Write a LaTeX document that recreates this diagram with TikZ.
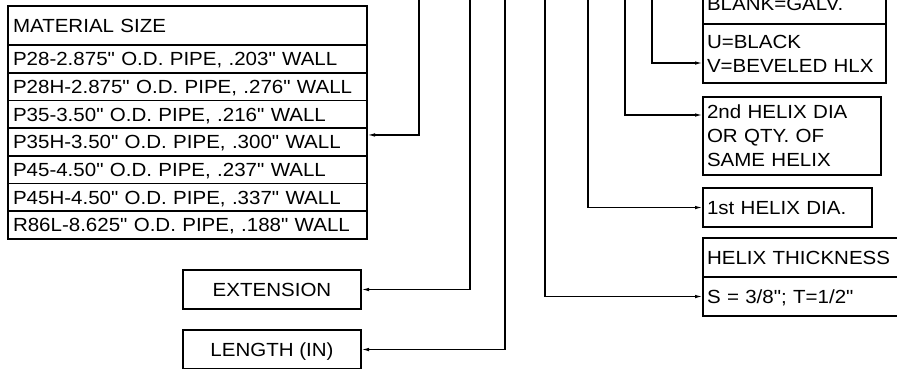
\documentclass[tikz,border=0pt]{standalone}
\usepackage{fontspec}
\setmainfont{Liberation Sans}[FakeStretch=1.08,Ligatures=TeXOff]
\usetikzlibrary{arrows.meta,positioning}

\begin{document}
\begin{tikzpicture}[x=1pt,y=-1pt,>={Latex[length=8pt,width=3.5pt]},
  every node/.style={font=\fontsize{19}{24}\selectfont},
  lead/.style={->,line width=1.3pt},
  cell/.style={draw,line width=1.6pt,outer sep=0pt,inner xsep=5pt,inner ysep=0pt,
    text width=349pt,align=left,text height=13.6pt,text depth=0pt,minimum height=27.7pt},
  pbox/.style={draw,line width=1.4pt,outer sep=0pt,minimum width=178pt,
    minimum height=39pt,text height=13.6pt,text depth=0pt},
  rbox/.style={draw,line width=1.4pt,outer sep=0pt,anchor=north west,
    inner xsep=4pt,inner ysep=0pt,align=left},
  oneline/.style={text height=13.6pt,text depth=0pt}]
  \useasboundingbox (0,0) rectangle (897,368);

  % material size table
  \node[cell,anchor=north west,minimum height=39pt] (hdr) at (8,6) {MATERIAL SIZE};
  \node[cell,below=0pt of hdr] (p28) {P28-2.875" O.D. PIPE, .203" WALL};
  \node[cell,below=0pt of p28] (p28h) {P28H-2.875" O.D. PIPE, .276" WALL};
  \node[cell,below=0pt of p28h] (p35) {P35-3.50" O.D. PIPE, .216" WALL};
  \node[cell,below=0pt of p35] (p35h) {P35H-3.50" O.D. PIPE, .300" WALL};
  \node[cell,below=0pt of p35h] (p45) {P45-4.50" O.D. PIPE, .237" WALL};
  \node[cell,below=0pt of p45] (p45h) {P45H-4.50" O.D. PIPE, .337" WALL};
  \node[cell,below=0pt of p45h] (r86l) {R86L-8.625" O.D. PIPE, .188" WALL};

  \node[pbox] (ext) at (272,289.5) {EXTENSION};
  \node[pbox,below=21pt of ext] (len) {LENGTH (IN)};

  % right hand boxes
  \node[rbox,text width=175pt,minimum height=40pt,oneline] (galv) at (703,-16) {BLANK=GALV.};
  \node[rbox,text width=175pt,minimum height=59pt,below=0pt of galv] (finish) {U=BLACK\\V=BEVELED HLX};
  \node[rbox,text width=170pt,minimum height=78pt] (dia2) at (703,97) {2nd HELIX DIA\\OR QTY. OF\\SAME HELIX};
  \node[rbox,text width=161pt,minimum height=39pt,oneline] (dia1) at (703,188) {1st HELIX DIA.};
  \node[rbox,text width=194pt,minimum height=39pt,oneline] (thk) at (703,238) {HELIX THICKNESS};
  \node[rbox,text width=194pt,minimum height=39pt,oneline,below=0pt of thk] (thkval) {S = 3/8"; T=1/2"};

  % leaders
  \coordinate (matTop) at (419,-5);
  \coordinate (extTop) at (470,-5);
  \coordinate (lenTop) at (505,-5);
  \coordinate (thkTop) at (545,-5);
  \coordinate (dia1Top) at (588,-5);
  \coordinate (dia2Top) at (625,-5);
  \coordinate (finTop) at (652,-5);
  \draw[lead] (matTop) |- ([yshift=7pt]p35h.east);
  \draw[lead] (extTop) |- (ext.east);
  \draw[lead] (lenTop) |- (len.east);
  \draw[lead] (thkTop) |- (thkval.west);
  \draw[lead] (dia1Top) |- (dia1.west);
  \draw[lead] (dia2Top) |- ([yshift=21pt]dia2.west);
  \draw[lead] (finTop) |- ([yshift=-9.5pt]finish.west);
\end{tikzpicture}
\end{document}
